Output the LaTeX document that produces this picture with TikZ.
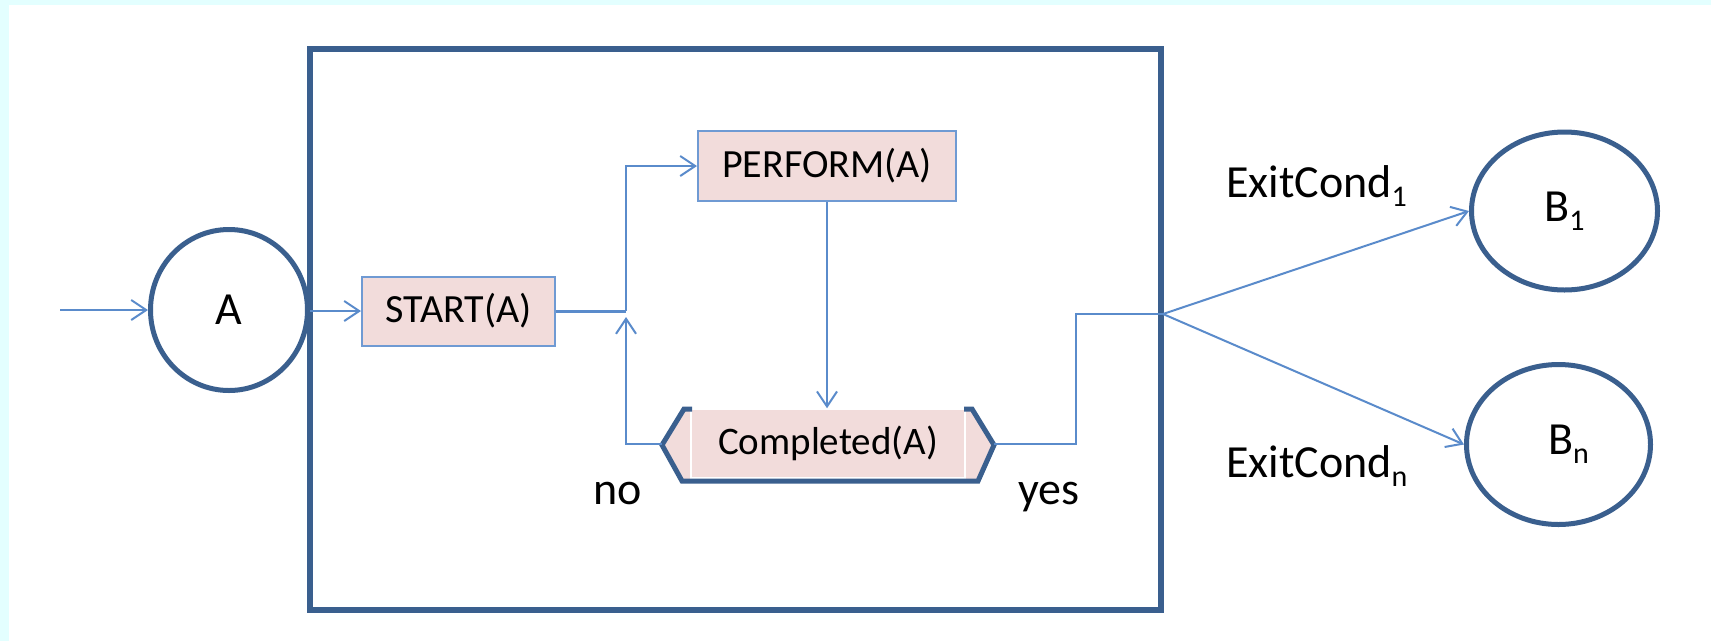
\documentclass[tikz,border=0pt]{standalone}
\usepackage{fontspec}
\setmainfont{Carlito}
\usetikzlibrary{arrows.meta,shapes.geometric}
\definecolor{framecol}{HTML}{3A5F8E}
\definecolor{linkcol}{HTML}{5A8BCB}
\definecolor{boxline}{HTML}{6F9AD3}
\definecolor{boxfill}{HTML}{F2DCDB}
\definecolor{edgecyan}{HTML}{E3FFFF}
% lowered index, as in ExitCond_1 or B_n
\newcommand{\lowidx}[1]{\raisebox{-0.2em}{\fontsize{30}{30}\selectfont #1}}

\begin{document}
\begin{tikzpicture}[x=1pt,y=-1pt,
  state/.style={ellipse, draw=framecol, line width=5pt, fill=white, inner sep=0pt,
                font=\fontsize{46}{50}\selectfont},
  actbox/.style={rectangle, draw=boxline, line width=2pt, fill=boxfill, inner sep=0pt,
                 font=\fontsize{40}{44}\selectfont},
  testbox/.style={rectangle, draw=white, line width=1.5pt, fill=boxfill, inner sep=0pt,
                  font=\fontsize{39}{44}\selectfont},
  container/.style={rectangle, draw=framecol, line width=6pt, inner sep=0pt},
  wire/.style={draw=linkcol, line width=2pt},
  conn/.style={wire, -{Straight Barb[length=15pt,width=20pt]}},
  lbl/.style={inner sep=0pt, font=\fontsize{46}{50}\selectfont}]

\useasboundingbox (0,0) rectangle (1711,641);
% page background with a pale cyan rim on the top and left
\fill[edgecyan] (0,0) rectangle (1711,641);
\fill[white] (9,5) rectangle (1711,641);

% enclosing frame of the composite state
\node[container, minimum width=851pt, minimum height=560.5pt] (frame) at (735.5,329.25) {};

% states
\node[state, minimum width=157pt, minimum height=161pt] (A) at (229,310) {A};
\node[state, minimum width=186pt, minimum height=158pt] (B1) at (1564.5,211) {B\lowidx{1}};
\node[state, minimum width=184pt, minimum height=160pt] (Bn) at (1558.5,444.5) {\hspace*{20pt}B\lowidx{n}};

% activities
\node[actbox, minimum width=193pt, minimum height=69pt] (start) at (458.5,311) {START(A)};
\node[actbox, minimum width=258pt, minimum height=70pt] (perform) at (827,166) {PERFORM(A)};

% decision: pink hexagon with dark brackets
\fill[boxfill] (684,409) -- (972,409) -- (994,445) -- (978,481) -- (682,481) -- (662,445) -- cycle;
\node[testbox, minimum width=274pt, minimum height=69pt] (comp) at (828,443.5) {Completed(A)};
\draw[framecol, line width=5pt, line join=miter]
  (692,409) -- (684,409) -- (662,445) -- (682,481) -- (978,481) -- (994,445) -- (972,409) -- (964,409);
\coordinate (cl) at (662,444);
\coordinate (cr) at (994,444);

% connectors
\coordinate (src) at (60,310);
\coordinate (split) at (626,311);
\coordinate (noend) at (626,317);
\coordinate (fan) at (1163,314);

\draw[conn] (src) -- (A);
\draw[conn] (A.east |- start.west) -- (start);
\draw[wire, line width=3pt] (start) -- (split);
\draw[conn] (split) |- (perform);
\draw[conn] (perform) -- (perform |- comp.north);
\draw[conn] (cl) -| (noend);
\draw[wire] (cr) -- ++(82,0) |- (fan);
\draw[conn] (fan) -- (B1.west);
\draw[conn] (fan) -- (Bn.west);

% labels
\node[lbl, anchor=base west] (no) at (593,504) {no};
\node[lbl, anchor=base west] (yes) at (1018,504) {yes};
\node[lbl, anchor=base west] (ec1) at (1226,197) {ExitCond\lowidx{1}};
\node[lbl, anchor=base west] (ecn) at (1226,477) {ExitCond\lowidx{n}};
\end{tikzpicture}
\end{document}
